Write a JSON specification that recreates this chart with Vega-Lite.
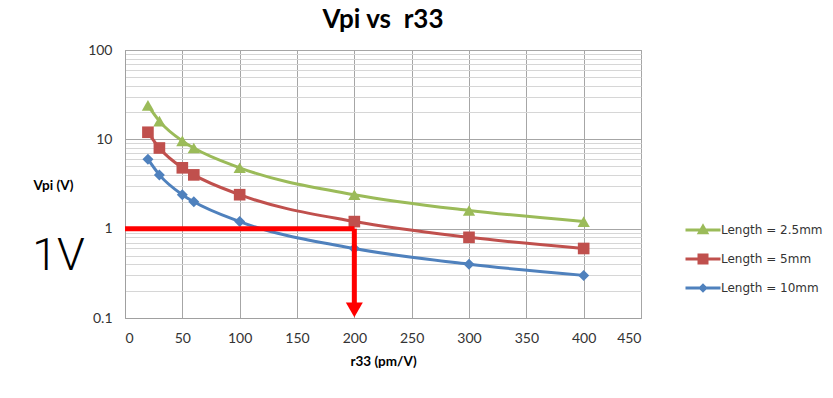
{
  "$schema": "https://vega.github.io/schema/vega-lite/v6.json",
  "width": 516,
  "height": 268,
  "autosize": {"type": "none"},
  "padding": {"left": 125, "top": 50, "right": 192, "bottom": 80},
  "background": "white",
  "title": {"text": "Vpi vs \u00a0r33", "font": "Lato", "fontSize": 26, "fontWeight": "bold", "color": "#000000", "anchor": "middle", "offset": 10},
  "config": {
    "view": {"stroke": "#A0A0A0", "strokeWidth": 1},
    "axis": {"labelFont": "Lato", "labelFontSize": 14, "labelColor": "#333333", "titleFont": "Lato", "titleFontSize": 13.5, "titleFontWeight": "bold", "titleColor": "#000000", "ticks": false, "domainColor": "#A0A0A0"},
    "legend": {"orient": "none", "legendX": 572, "legendY": 174, "title": null, "padding": 0, "symbolSize": 100, "labelFont": "DejaVu Sans", "labelFontSize": 12, "labelColor": "#333333", "labelOffset": 12, "rowPadding": 17, "symbolStrokeWidth": 0, "symbolOpacity": 1}
  },
  "datasets": {
    "series": [
      {"series": "Length = 2.5mm", "r33": 20, "vpi": 24},
      {"series": "Length = 2.5mm", "r33": 30, "vpi": 16},
      {"series": "Length = 2.5mm", "r33": 50, "vpi": 9.6},
      {"series": "Length = 2.5mm", "r33": 60, "vpi": 8},
      {"series": "Length = 2.5mm", "r33": 100, "vpi": 4.8},
      {"series": "Length = 2.5mm", "r33": 200, "vpi": 2.4},
      {"series": "Length = 2.5mm", "r33": 300, "vpi": 1.6},
      {"series": "Length = 2.5mm", "r33": 400, "vpi": 1.2},
      {"series": "Length = 5mm", "r33": 20, "vpi": 12},
      {"series": "Length = 5mm", "r33": 30, "vpi": 8},
      {"series": "Length = 5mm", "r33": 50, "vpi": 4.8},
      {"series": "Length = 5mm", "r33": 60, "vpi": 4},
      {"series": "Length = 5mm", "r33": 100, "vpi": 2.4},
      {"series": "Length = 5mm", "r33": 200, "vpi": 1.2},
      {"series": "Length = 5mm", "r33": 300, "vpi": 0.8},
      {"series": "Length = 5mm", "r33": 400, "vpi": 0.6},
      {"series": "Length = 10mm", "r33": 20, "vpi": 6},
      {"series": "Length = 10mm", "r33": 30, "vpi": 4},
      {"series": "Length = 10mm", "r33": 50, "vpi": 2.4},
      {"series": "Length = 10mm", "r33": 60, "vpi": 2},
      {"series": "Length = 10mm", "r33": 100, "vpi": 1.2},
      {"series": "Length = 10mm", "r33": 200, "vpi": 0.6},
      {"series": "Length = 10mm", "r33": 300, "vpi": 0.4},
      {"series": "Length = 10mm", "r33": 400, "vpi": 0.3}
    ],
    "arrows": [
      {"x": 0, "x2": 200, "y": 1, "y2": 1},
      {"x": 200, "x2": 200, "y": 1, "y2": 0.14}
    ],
    "heads": [{"x": 200, "y": 0.123}],
    "notes": [{"x": -58, "y": 0.5, "text": "1V"}]
  },
  "layer": [
    {
      "data": {"name": "series"},
      "mark": {"type": "line", "interpolate": "monotone", "strokeWidth": 3},
      "encoding": {
        "x": {"field": "r33", "type": "quantitative", "scale": {"domain": [0, 450], "nice": false}, "axis": {"values": [0, 50, 100, 150, 200, 250, 300, 350, 400, 450], "title": "r33 (pm/V)", "gridColor": "#A6A6A6", "labelPadding": 13, "titlePadding": 9}},
        "y": {"field": "vpi", "type": "quantitative", "scale": {"type": "log", "domain": [0.1, 100], "nice": false}, "axis": {
          "values": [0.1, 0.2, 0.3, 0.4, 0.5, 0.6, 0.7, 0.8, 0.9, 1, 2, 3, 4, 5, 6, 7, 8, 9, 10, 20, 30, 40, 50, 60, 70, 80, 90, 100],
          "labelExpr": "datum.value == 0.1 ? '0.1' : datum.value == 1 ? '1' : datum.value == 10 ? '10' : datum.value == 100 ? '100' : ''",
          "gridColor": {"condition": {"test": "datum.value == 0.1 || datum.value == 1 || datum.value == 10 || datum.value == 100", "value": "#A6A6A6"}, "value": "#D6D6D6"},
          "title": "Vpi (V)", "titleAngle": 0, "titleAlign": "left", "titleBaseline": "middle", "titleX": -92, "titleY": 135, "labelPadding": 13}},
        "color": {"field": "series", "type": "nominal",
          "scale": {"domain": ["Length = 2.5mm", "Length = 5mm", "Length = 10mm"], "range": ["#9BBB59", "#C0504D", "#4F81BD"]},
          "legend": null}
      }
    },
    {
      "data": {"name": "series"},
      "mark": {"type": "point", "filled": true, "opacity": 1},
      "encoding": {
        "x": {"field": "r33", "type": "quantitative"},
        "y": {"field": "vpi", "type": "quantitative"},
        "color": {"field": "series", "type": "nominal", "legend": null},
        "shape": {"field": "series", "type": "nominal", "scale": {"domain": ["Length = 2.5mm", "Length = 5mm", "Length = 10mm"], "range": ["triangle-up", "square", "diamond"]}, "legend": null},
        "size": {"field": "series", "type": "nominal", "scale": {"domain": ["Length = 2.5mm", "Length = 5mm", "Length = 10mm"], "range": [150, 121, 90]}, "legend": null}
      }
    },
    {
      "data": {"name": "series"},
      "transform": [{"filter": "false"}],
      "mark": {"type": "point", "filled": true, "opacity": 1},
      "encoding": {
        "x": {"field": "r33", "type": "quantitative"},
        "y": {"field": "vpi", "type": "quantitative"},
        "color": {"field": "series", "type": "nominal", "scale": {"domain": ["Length = 2.5mm", "Length = 5mm", "Length = 10mm"], "range": ["#9BBB59", "#C0504D", "#4F81BD"]}},
        "shape": {"field": "series", "type": "nominal", "scale": {"domain": ["Length = 2.5mm", "Length = 5mm", "Length = 10mm"], "range": [
          "M-3.5,-0.3H3.5V0.3H-3.5ZM0,-1.35L1.25,0.85L-1.25,0.85Z",
          "M-3.5,-0.3H3.5V0.3H-3.5ZM-1.1,-1.1H1.1V1.1H-1.1Z",
          "M-3.5,-0.3H3.5V0.3H-3.5ZM0,-0.95L0.95,0L0,0.95L-0.95,0Z"
        ]}}
      }
    },
    {
      "data": {"name": "arrows"},
      "mark": {"type": "rule", "color": "#FF0000", "strokeWidth": 5},
      "encoding": {
        "x": {"field": "x", "type": "quantitative"},
        "x2": {"field": "x2"},
        "y": {"field": "y", "type": "quantitative"},
        "y2": {"field": "y2"}
      }
    },
    {
      "data": {"name": "heads"},
      "mark": {"type": "point", "shape": "triangle-down", "filled": true, "color": "#FF0000", "opacity": 1, "size": 289},
      "encoding": {
        "x": {"field": "x", "type": "quantitative"},
        "y": {"field": "y", "type": "quantitative"}
      }
    },
    {
      "data": {"name": "notes"},
      "mark": {"type": "text", "font": "Roboto", "fontWeight": 300, "fontSize": 45, "color": "#000000", "align": "center", "baseline": "middle"},
      "encoding": {
        "x": {"field": "x", "type": "quantitative"},
        "y": {"field": "y", "type": "quantitative"},
        "text": {"field": "text"}
      }
    }
  ],
  "resolve": {"scale": {"shape": "independent", "size": "independent"}, "legend": {"shape": "independent", "color": "independent"}}
}
